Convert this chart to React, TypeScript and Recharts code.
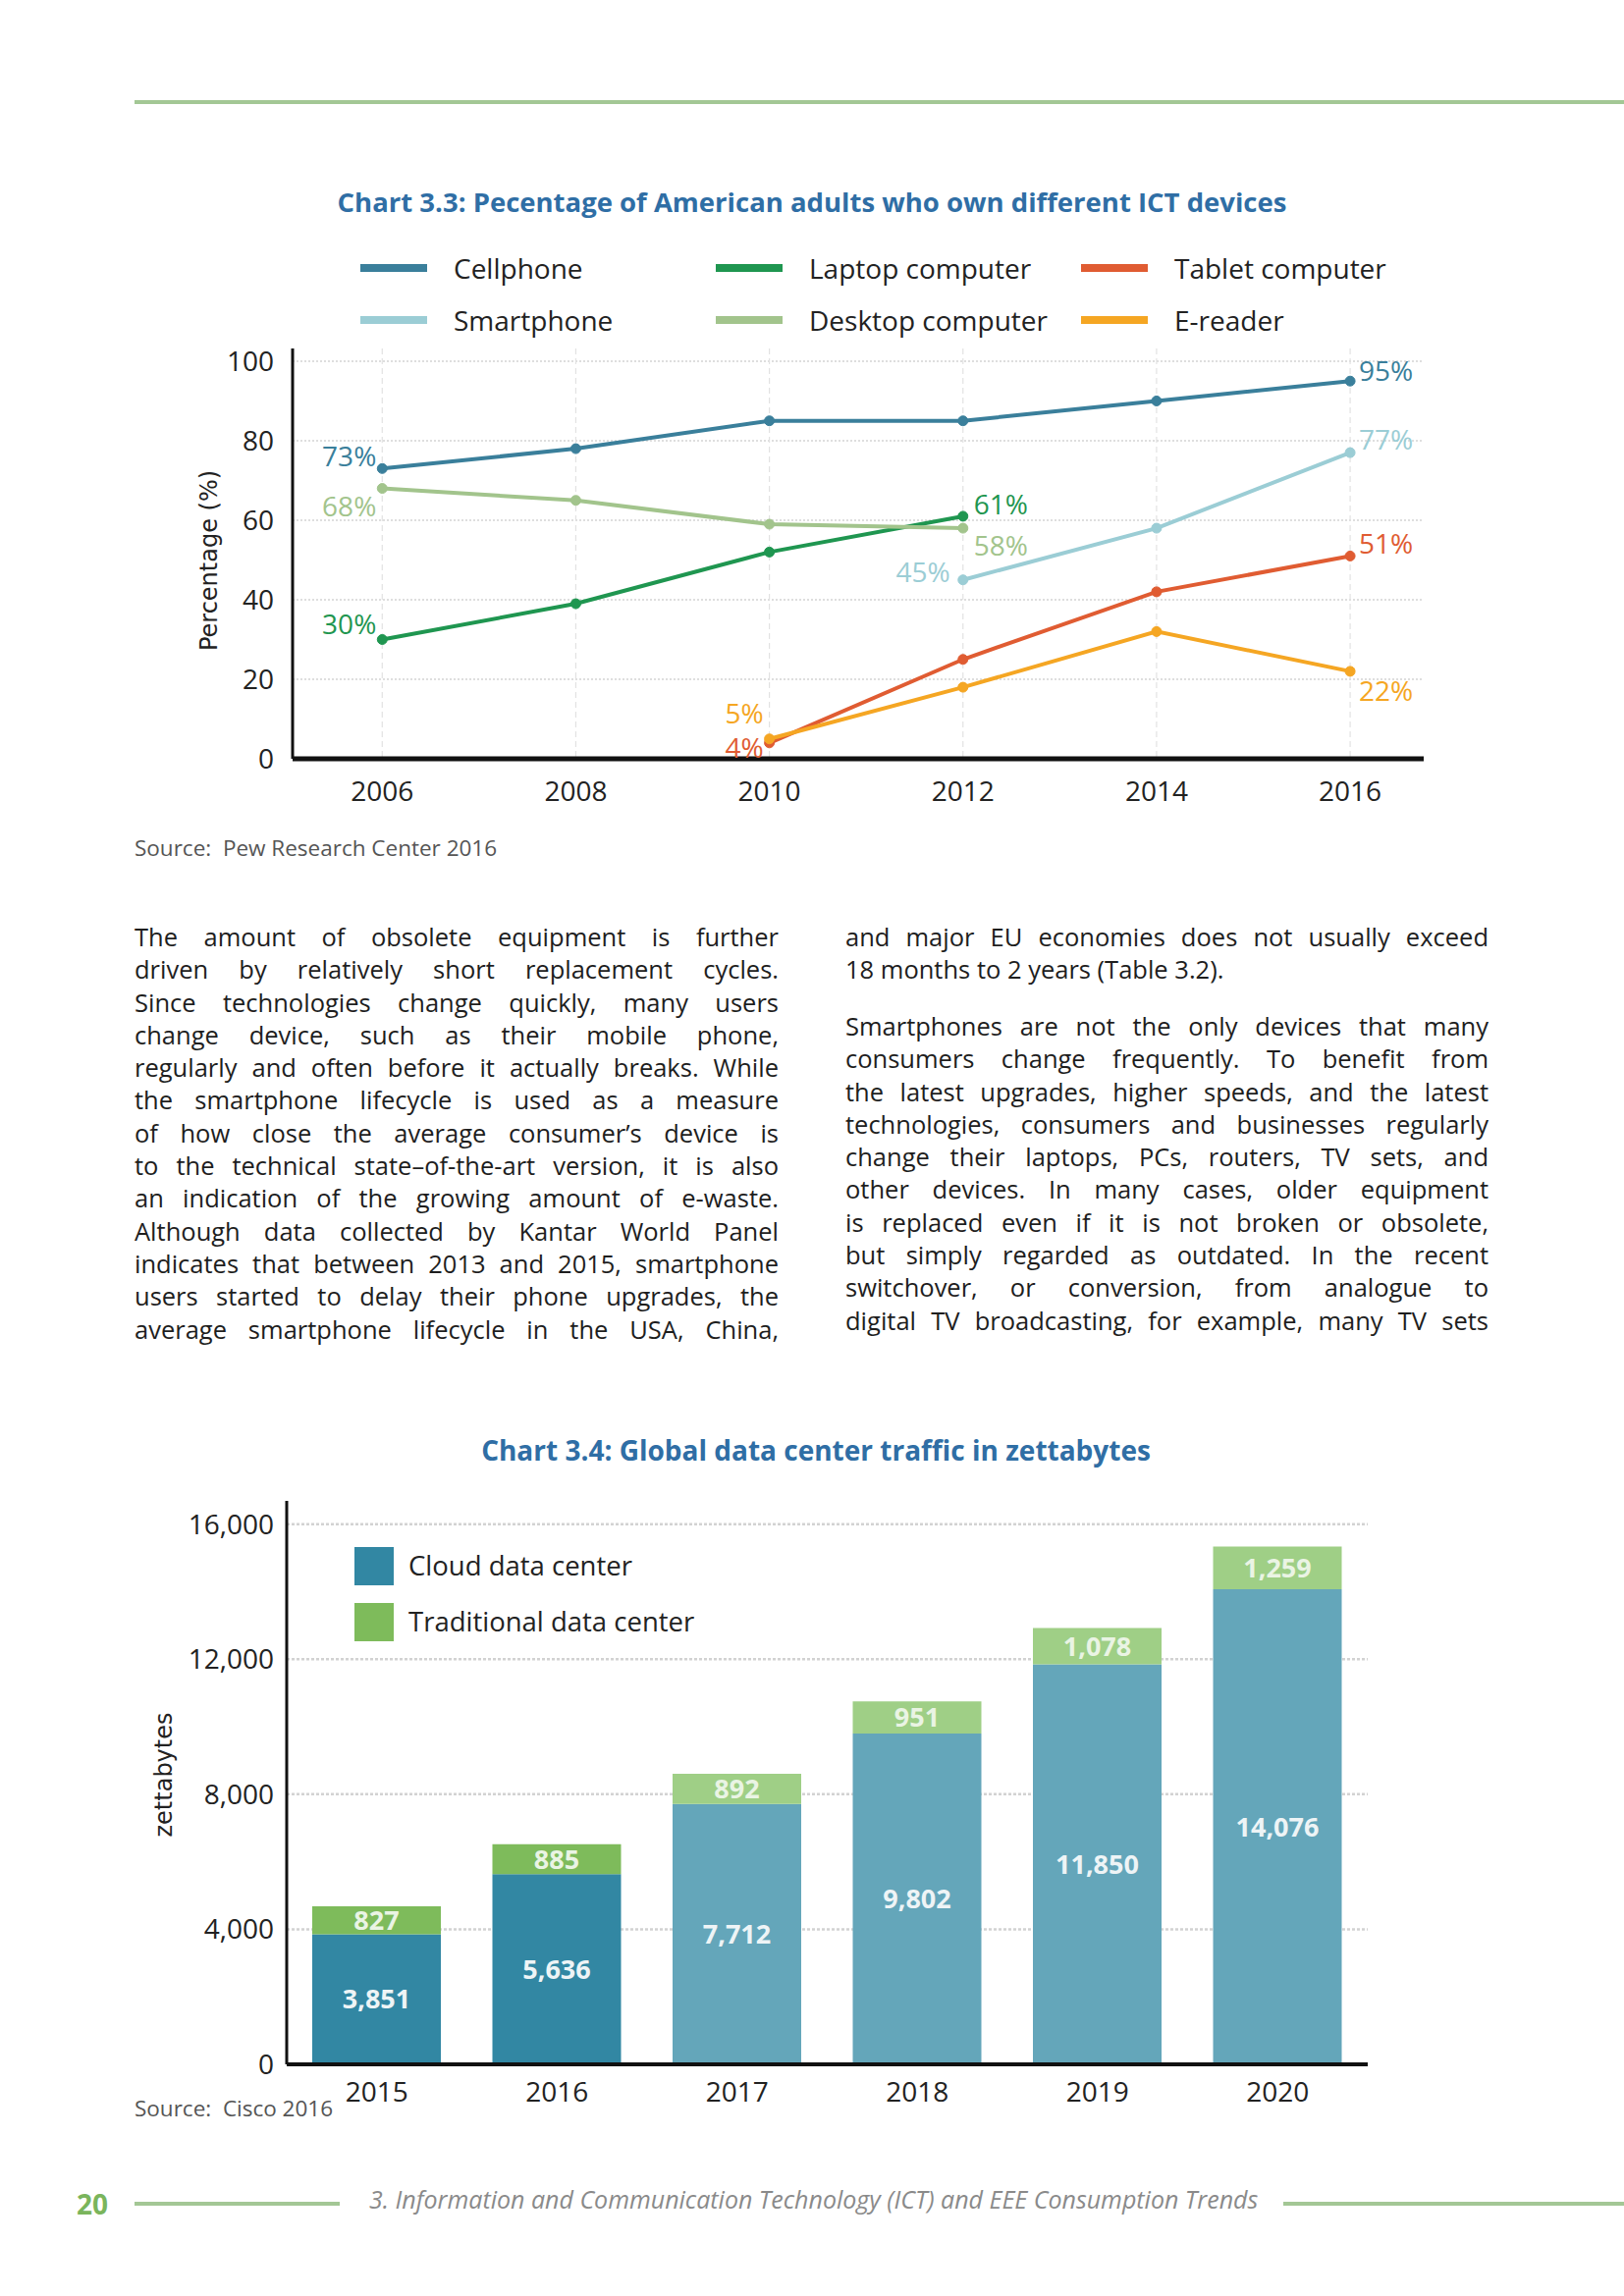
import React from "react";
import {
  LineChart,
  Line,
  BarChart,
  Bar,
  Cell,
  XAxis,
  YAxis,
  CartesianGrid,
  LabelList,
} from "recharts";

// ---- Chart 3.3 data ----
const YEARS = [2006, 2008, 2010, 2012, 2014, 2016];
const CELLPHONE = [73, 78, 85, 85, 90, 95];
const SMARTPHONE = [null, null, null, 45, 58, 77];
const LAPTOP = [30, 39, 52, 61, null, null];
const DESKTOP = [68, 65, 59, 58, null, null];
const TABLET = [null, null, 4, 25, 42, 51];
const EREADER = [null, null, 5, 18, 32, 22];
const PCT_TICKS = [0, 20, 40, 60, 80, 100];

// ---- Chart 3.4 data ----
const BAR_YEARS = ["2015", "2016", "2017", "2018", "2019", "2020"];
const CLOUD = [3851, 5636, 7712, 9802, 11850, 14076];
const TRADITIONAL = [827, 885, 892, 951, 1078, 1259];
const ZB_TICKS = [0, 4000, 8000, 12000, 16000];
const FIRST_FORECAST = "2017";

// ---- body text ----
const LEFT_LINES = [
  "The amount of obsolete equipment is further",
  "driven by relatively short replacement cycles.",
  "Since technologies change quickly, many users",
  "change device, such as their mobile phone,",
  "regularly and often before it actually breaks. While",
  "the smartphone lifecycle is used as a measure",
  "of how close the average consumer’s device is",
  "to the technical state–of-the-art version, it is also",
  "an indication of the growing amount of e-waste.",
  "Although data collected by Kantar World Panel",
  "indicates that between 2013 and 2015, smartphone",
  "users started to delay their phone upgrades, the",
  "average smartphone lifecycle in the USA, China,",
];
const RIGHT_LINES_1 = [
  "and major EU economies does not usually exceed",
  "18 months to 2 years (Table 3.2).",
];
const RIGHT_LINES_2 = [
  "Smartphones are not the only devices that many",
  "consumers change frequently. To benefit from",
  "the latest upgrades, higher speeds, and the latest",
  "technologies, consumers and businesses regularly",
  "change their laptops, PCs, routers, TV sets, and",
  "other devices. In many cases, older equipment",
  "is replaced even if it is not broken or obsolete,",
  "but simply regarded as outdated. In the recent",
  "switchover, or conversion, from analogue to",
  "digital TV broadcasting, for example, many TV sets",
];

const SERIES = [
  { key: "cellphone", name: "Cellphone", values: CELLPHONE, color: "#3a7f9b" },
  { key: "smartphone", name: "Smartphone", values: SMARTPHONE, color: "#9bcdd5" },
  { key: "laptop", name: "Laptop computer", values: LAPTOP, color: "#1f9650" },
  { key: "desktop", name: "Desktop computer", values: DESKTOP, color: "#a2c48c" },
  { key: "tablet", name: "Tablet computer", values: TABLET, color: "#e05c32" },
  { key: "ereader", name: "E-reader", values: EREADER, color: "#f5a623" },
];

// end-label offsets [dx, dy, anchor] for first / last point of each series
const END_LABELS: Record<string, { first: [number, number, string]; last: [number, number, string] }> = {
  cellphone: { first: [-6, -13, "end"], last: [9, -11, "start"] },
  smartphone: { first: [-13, -9, "end"], last: [9, -14, "start"] },
  laptop: { first: [-6, -16, "end"], last: [11, -13, "start"] },
  desktop: { first: [-6, 17, "end"], last: [11, 17, "start"] },
  tablet: { first: [-6, 4, "end"], last: [9, -13, "start"] },
  ereader: { first: [-6, -27, "end"], last: [9, 19, "start"] },
};

const lineData = YEARS.map((year, i) => {
  const row: Record<string, number | null> = { year };
  SERIES.forEach((s) => (row[s.key] = s.values[i]));
  return row;
});

const barData = BAR_YEARS.map((year, i) => ({
  year,
  cloud: CLOUD[i],
  traditional: TRADITIONAL[i],
}));

const TEXT = "#1e1e1e";
const TITLE_BLUE = "#2f6ea5";
const RULE_GREEN = "#a3c795";

function Txt({ x, cy, h = 40, style, children }: any) {
  return (
    <div
      style={{
        position: "absolute",
        left: x,
        top: cy - h / 2,
        height: h,
        lineHeight: `${h}px`,
        whiteSpace: "nowrap",
        ...style,
      }}
    >
      {children}
    </div>
  );
}

function Column({ x, top, width, lines, justifyLast }: any) {
  return (
    <div style={{ position: "absolute", left: x, top, width, fontSize: 25.5, color: TEXT }}>
      {lines.map((ln: string, i: number) => {
        const last = i === lines.length - 1;
        const just = !last || justifyLast;
        return (
          <div
            key={i}
            style={{
              height: 33.3,
              lineHeight: "33.3px",
              textAlign: just ? "justify" : "left",
              textAlignLast: just ? "justify" : "left",
            }}
          >
            {ln}
          </div>
        );
      })}
    </div>
  );
}

function endLabel(p: any, s: (typeof SERIES)[number]) {
  const { x, y, value, index } = p;
  if (value == null || x == null || y == null) return null;
  const firstIdx = s.values.findIndex((v) => v != null);
  let lastIdx = s.values.length - 1;
  while (lastIdx >= 0 && s.values[lastIdx] == null) lastIdx--;
  const cfg = END_LABELS[s.key];
  let place: [number, number, string] | null = null;
  if (index === firstIdx) place = cfg.first;
  else if (index === lastIdx) place = cfg.last;
  if (!place) return null;
  return (
    <text
      x={x + place[0]}
      y={y + place[1]}
      textAnchor={place[2] as any}
      dominantBaseline="central"
      fill={s.color}
      fontFamily="Open Sans"
      fontSize={28}
    >
      {value}%
    </text>
  );
}

const tickStyle = { fontFamily: "Open Sans", fontSize: 28, fill: "#222" };

function LineLegend() {
  const cols = [
    [SERIES[0], SERIES[1]],
    [SERIES[2], SERIES[3]],
    [SERIES[4], SERIES[5]],
  ];
  const colX = [367, 729, 1101];
  const rowY = [273, 326];
  return (
    <>
      {cols.map((col, c) =>
        col.map((s, r) => (
          <React.Fragment key={s.key}>
            <div
              style={{
                position: "absolute",
                left: colX[c],
                top: rowY[r] - 4,
                width: 68,
                height: 8,
                background: s.color,
              }}
            />
            <Txt x={colX[c] + 95} cy={rowY[r]} style={{ fontSize: 28, color: "#222" }}>
              {s.name}
            </Txt>
          </React.Fragment>
        ))
      )}
    </>
  );
}

const CLOUD_COLORS = { actual: "#3287a3", forecast: "#64a6ba" };
const TRAD_COLORS = { actual: "#7ebb5b", forecast: "#9fcf86" };

export default function App() {
  return (
    <div
      style={{
        position: "absolute",
        left: 0,
        top: 0,
        width: 1654,
        height: 2339,
        background: "#fff",
        fontFamily: "Open Sans",
        overflow: "hidden",
      }}
    >
      {/* top rule */}
      <div style={{ position: "absolute", left: 137, top: 102, width: 1517, height: 4, background: RULE_GREEN }} />

      {/* Chart 3.3 */}
      <Txt x={0} cy={206} style={{ width: 1654, textAlign: "center", fontSize: 27.5, fontWeight: 700, color: TITLE_BLUE }}>
        Chart 3.3: Pecentage of American adults who own different ICT devices
      </Txt>
      <LineLegend />
      <div
        style={{
          position: "absolute",
          left: 213,
          top: 571,
          transform: "translate(-50%, -50%) rotate(-90deg)",
          whiteSpace: "nowrap",
          fontFamily: "DejaVu Sans",
          fontSize: 24,
          color: "#222",
        }}
      >
        Percentage (%)
      </div>
      <div style={{ position: "absolute", left: 130, top: 340 }}>
        <LineChart width={1360} height={510} data={lineData} margin={{ top: 15, right: 40, bottom: 27, left: 88 }}>
          <CartesianGrid vertical={false} syncWithTicks stroke="#d4d4d4" strokeDasharray="2 2" strokeWidth={1.5} />
          <CartesianGrid horizontal={false} syncWithTicks stroke="#e2e2e2" strokeDasharray="6 4" strokeWidth={1.2} />
          <XAxis
            dataKey="year"
            type="number"
            domain={[2005.074, 2016.76]}
            ticks={YEARS}
            allowDataOverflow
            tickSize={0}
            tickMargin={23}
            height={50}
            axisLine={{ stroke: "#111", strokeWidth: 5 }}
            tickLine={false}
            tick={tickStyle}
          />
          <YAxis
            type="number"
            domain={[0, 103.2]}
            ticks={PCT_TICKS}
            allowDataOverflow
            width={80}
            tickSize={0}
            tickMargin={19}
            axisLine={{ stroke: "#111", strokeWidth: 3 }}
            tickLine={false}
            tick={tickStyle}
          />
          {SERIES.map((s) => (
            <Line
              key={s.key}
              dataKey={s.key}
              stroke={s.color}
              strokeWidth={4}
              dot={{ r: 5, fill: s.color, stroke: s.color, strokeWidth: 1 }}
              activeDot={false}
              isAnimationActive={false}
              connectNulls={false}
            >
              <LabelList dataKey={s.key} content={(p: any) => endLabel(p, s)} />
            </Line>
          ))}
        </LineChart>
      </div>
      <Txt x={137} cy={864} style={{ fontSize: 22.5, color: "#555" }}>
        Source:&nbsp; Pew Research Center 2016
      </Txt>

      {/* body text */}
      <Column x={137} top={938} width={656} lines={LEFT_LINES} justifyLast />
      <Column x={861} top={938} width={655} lines={RIGHT_LINES_1} justifyLast={false} />
      <Column x={861} top={1029} width={655} lines={RIGHT_LINES_2} justifyLast />

      {/* Chart 3.4 */}
      <Txt x={4} cy={1477} style={{ width: 1654, textAlign: "center", fontSize: 28, fontWeight: 700, color: TITLE_BLUE }}>
        Chart 3.4: Global data center traffic in zettabytes
      </Txt>
      <div
        style={{
          position: "absolute",
          left: 167,
          top: 1808,
          transform: "translate(-50%, -50%) rotate(-90deg)",
          whiteSpace: "nowrap",
          fontFamily: "DejaVu Sans",
          fontSize: 24,
          color: "#222",
        }}
      >
        zettabytes
      </div>
      <div style={{ position: "absolute", left: 130, top: 1510 }}>
        <BarChart width={1300} height={660} data={barData} margin={{ top: 19, right: 37, bottom: 17, left: 82 }} barSize={131}>
          <CartesianGrid vertical={false} syncWithTicks stroke="#d2d2d2" strokeDasharray="3 2" strokeWidth={2.5} />
          <XAxis
            dataKey="year"
            tickSize={0}
            tickMargin={18}
            height={50}
            axisLine={{ stroke: "#111", strokeWidth: 4 }}
            tickLine={false}
            tick={tickStyle}
          />
          <YAxis
            type="number"
            domain={[0, 16690]}
            ticks={ZB_TICKS}
            allowDataOverflow
            width={80}
            tickSize={0}
            tickMargin={13}
            tickFormatter={(v: number) => v.toLocaleString("en-US")}
            axisLine={{ stroke: "#111", strokeWidth: 3 }}
            tickLine={false}
            tick={tickStyle}
          />
          <Bar dataKey="cloud" stackId="dc" isAnimationActive={false}>
            {barData.map((d) => (
              <Cell key={d.year} fill={d.year < FIRST_FORECAST ? CLOUD_COLORS.actual : CLOUD_COLORS.forecast} />
            ))}
            <LabelList
              dataKey="cloud"
              position="center"
              formatter={(v: any) => Number(v).toLocaleString("en-US")}
              fill="#eef4f6"
              fontFamily="Open Sans"
              fontWeight={700}
              fontSize={27}
            />
          </Bar>
          <Bar dataKey="traditional" stackId="dc" isAnimationActive={false}>
            {barData.map((d) => (
              <Cell key={d.year} fill={d.year < FIRST_FORECAST ? TRAD_COLORS.actual : TRAD_COLORS.forecast} />
            ))}
            <LabelList
              dataKey="traditional"
              position="center"
              formatter={(v: any) => Number(v).toLocaleString("en-US")}
              fill="#eaf4e4"
              fontFamily="Open Sans"
              fontWeight={700}
              fontSize={27}
            />
          </Bar>
        </BarChart>
      </div>
      {/* bar legend */}
      <div style={{ position: "absolute", left: 361, top: 1576, width: 40, height: 39, background: CLOUD_COLORS.actual }} />
      <Txt x={416} cy={1595} style={{ fontSize: 27.5, color: "#222" }}>
        Cloud data center
      </Txt>
      <div style={{ position: "absolute", left: 361, top: 1633, width: 40, height: 39, background: TRAD_COLORS.actual }} />
      <Txt x={416} cy={1652} style={{ fontSize: 27.5, color: "#222" }}>
        Traditional data center
      </Txt>
      <Txt x={137} cy={2148} style={{ fontSize: 22.5, color: "#555" }}>
        Source:&nbsp; Cisco 2016
      </Txt>

      {/* footer */}
      <Txt x={78} cy={2245} style={{ fontSize: 28, fontWeight: 700, color: "#7ab55c" }}>
        20
      </Txt>
      <div style={{ position: "absolute", left: 137, top: 2243, width: 209, height: 4, background: RULE_GREEN }} />
      <Txt x={376} cy={2240} style={{ fontSize: 25, fontStyle: "italic", color: "#8a8a8a" }}>
        3. Information and Communication Technology (ICT) and EEE Consumption Trends
      </Txt>
      <div style={{ position: "absolute", left: 1307, top: 2243, width: 347, height: 4, background: RULE_GREEN }} />
    </div>
  );
}
